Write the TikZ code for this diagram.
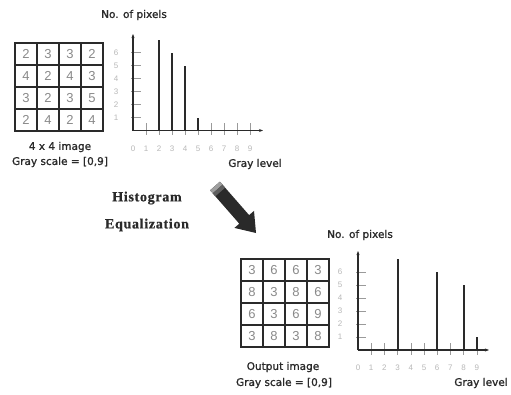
\documentclass[tikz,border=0pt]{standalone}
\usepackage{fontspec}
\setmainfont{Liberation Sans}
\newfontfamily\lblfont[FakeBold=1.2]{DejaVu Sans}
\newfontfamily\titlefont[LetterSpace=5,FakeBold=0.8]{Liberation Serif Bold}
\usetikzlibrary{arrows.meta}
\definecolor{ink}{HTML}{2A2A2A}
\definecolor{cellnum}{HTML}{8A8A8A}
\definecolor{ticklab}{HTML}{B8B8B8}
\definecolor{tickln}{HTML}{9A9A9A}
\tikzset{
  cellbox/.style={draw=ink, line width=1.6pt, minimum size=22pt, inner sep=0pt, text=cellnum, font=\fontsize{13}{13}\selectfont},
  lbl/.style={text=ink, inner sep=0pt, font=\lblfont\fontsize{10.5}{12}\selectfont},
  ttl/.style={text=ink, inner sep=0pt, font=\titlefont\fontsize{14}{16}\selectfont},
  axisln/.style={draw=ink, line width=1.4pt},
  barln/.style={draw=ink, line width=2pt},
  tickx/.style={draw=tickln, line width=0.5pt},
  ticky/.style={draw=tickln, line width=0.7pt},
  ticklbl/.style={text=ticklab, inner sep=0pt, font=\fontsize{8}{8}\selectfont},
}
\begin{document}
\begin{tikzpicture}[x=1pt, y=-1pt]
\useasboundingbox[fill=white] (0,0) rectangle (511,394);

% ---------- top image grid ----------
\foreach \row/\vals in {0/{2,3,3,2},1/{4,2,4,3},2/{3,2,3,5},3/{2,4,2,4}}{
  \foreach \v [count=\c from 0] in \vals {
    \node[cellbox] (ta\row\c) at (26+22*\c, 54+22*\row) {\v};
  }
}
\node[lbl] (tcap1) at (60,147) {4 x 4 image};
\node[lbl] (tcap2) at (60,162) {Gray scale = [0,9]};

% ---------- top histogram ----------
\coordinate (to) at (133,130.5);
\coordinate (tytop) at (133,34);
\coordinate (txend) at (263,130.5);
\foreach \k in {1,...,6}{
  \draw[ticky] (131,130.5-13*\k) -- (141,130.5-13*\k);
  \node[ticklbl] (tyl\k) at (116,130.5-13*\k) {\k};
}
\foreach \k in {1,...,9}{
  \draw[tickx] (133+13*\k,123) -- (133+13*\k,135);
}
\foreach \k in {0,...,9}{
  \node[ticklbl] (txl\k) at (133+13*\k,149) {\k};
}
\draw[axisln, -{Stealth[length=4pt,width=3pt]}] (to) -- (tytop);
\draw[axisln, -{Stealth[length=4pt,width=3pt]}] (to) -- (txend);
\foreach \lv/\h in {2/7,3/6,4/5,5/1}{
  \draw[barln] (133+13*\lv,130.5) -- (133+13*\lv,130.5-13*\h);
}
\node[lbl] (tny) at (134,15) {No. of pixels};
\node[lbl] (tgl) at (255,164) {Gray level};

% ---------- arrow and title ----------
\node[ttl] (h1) at (147,198) {Histogram};
\node[ttl] (h2) at (147,225) {Equalization};
\fill[ink] (219.9,181.7) -- (249.1,215.1) -- (254.0,210.9) -- (256,233)
  -- (234.4,227.9) -- (239.3,223.7) -- (210.1,190.3) -- cycle;
\fill[ink!45] (219.9,181.7) -- (222.5,184.7) -- (212.7,193.3) -- (210.1,190.3) -- cycle;
\fill[ink!75] (222.5,184.7) -- (225.1,187.7) -- (215.3,196.3) -- (212.7,193.3) -- cycle;

% ---------- bottom image grid ----------
\foreach \row/\vals in {0/{3,6,6,3},1/{8,3,8,6},2/{6,3,6,9},3/{3,8,3,8}}{
  \foreach \v [count=\c from 0] in \vals {
    \node[cellbox] (ba\row\c) at (252+22*\c, 270+22*\row) {\v};
  }
}
\node[lbl] (bcap1) at (283,367) {Output image};
\node[lbl] (bcap2) at (284,383) {Gray scale = [0,9]};

% ---------- bottom histogram ----------
\coordinate (bo) at (358,350);
\coordinate (bytop) at (358,251);
\coordinate (bxend) at (489,350);
\foreach \k in {1,...,6}{
  \draw[ticky] (356,350-13*\k) -- (366,350-13*\k);
  \node[ticklbl] (byl\k) at (340,350-13*\k) {\k};
}
\foreach \k in {1,...,9}{
  \draw[tickx] (358+13.2*\k,343) -- (358+13.2*\k,355);
}
\foreach \k in {0,...,9}{
  \node[ticklbl] (bxl\k) at (358+13.2*\k,368) {\k};
}
\draw[axisln, -{Stealth[length=4pt,width=3pt]}] (bo) -- (bytop);
\draw[axisln, -{Stealth[length=4pt,width=3pt]}] (bo) -- (bxend);
\foreach \lv/\h in {3/7,6/6,8/5,9/1}{
  \draw[barln] (358+13.2*\lv,350) -- (358+13.2*\lv,350-13*\h);
}
\node[lbl] (bny) at (360,235) {No. of pixels};
\node[lbl] (bgl) at (481,383) {Gray level};
\end{tikzpicture}
\end{document}
